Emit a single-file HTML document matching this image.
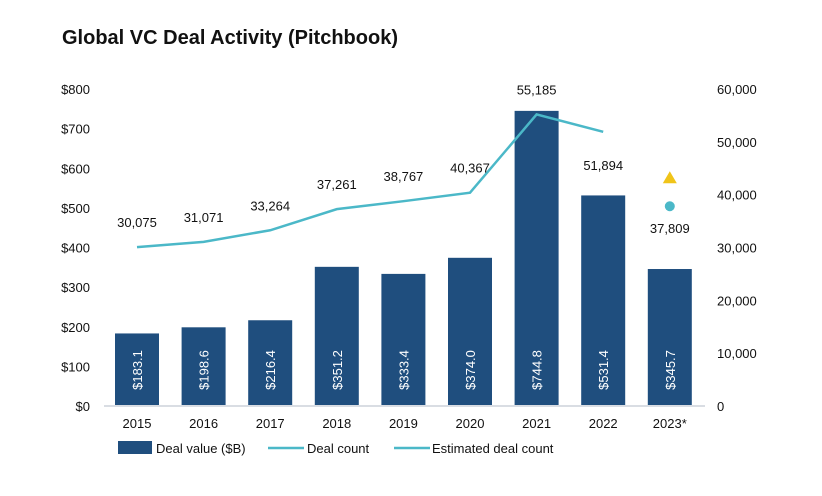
<!DOCTYPE html>
<html><head><meta charset="utf-8"><style>
body{margin:0;background:#fff;font-family:"Liberation Sans",sans-serif}
svg text{font-family:"Liberation Sans",sans-serif}
</style></head><body>
<svg width="822" height="491" xmlns="http://www.w3.org/2000/svg">
<text x="62" y="44" font-size="20" font-weight="bold" fill="#111">Global VC Deal Activity (Pitchbook)</text>
<g id="g"></g>
</svg>
<script>
const years=["2015","2016","2017","2018","2019","2020","2021","2022","2023*"];
const dealValue=[183.1,198.6,216.4,351.2,333.4,374.0,744.8,531.4,345.7];
const dealCount=[30075,31071,33264,37261,38767,40367,55185,51894];
const estCount=[37809];
const estTriangle=[43300];
const leftTicks=[0,100,200,300,400,500,600,700,800];
const rightTicks=[0,10000,20000,30000,40000,50000,60000];
const NS="http://www.w3.org/2000/svg",g=document.getElementById('g');
const y0=406,h=317;
const yL=v=>y0-v/800*h, yR=v=>y0-v/60000*h, xC=i=>137+i*66.6;
function mk(t,a,txt){const e=document.createElementNS(NS,t);for(const k in a)e.setAttribute(k,a[k]);if(txt!=null)e.textContent=txt;g.appendChild(e);return e;}
leftTicks.forEach(v=>{const e=mk('text',{x:90,y:yL(v)+5,'font-size':13,'text-anchor':'end',fill:'#111'},'$'+v);

});
rightTicks.forEach(v=>{const e=mk('text',{x:717,y:yR(v)+5,'font-size':13,fill:'#111'},v.toLocaleString('en-US'));

});
dealValue.forEach((v,i)=>{const b=mk('rect',{x:xC(i)-22,y:yL(v),width:44,height:y0-yL(v),fill:'#1f4e7e'});


const t=mk('text',{x:0,y:0,'font-size':13,fill:'#fff','text-anchor':'middle',transform:`translate(${xC(i)+5},370) rotate(-90)`},'$'+v.toFixed(1));


const yl=mk('text',{x:xC(i),y:428,'font-size':13,'text-anchor':'middle',fill:'#111'},years[i]);

});
const ax=mk('line',{x1:104,x2:705,y1:y0,y2:y0,stroke:'#d9dde3','stroke-width':2});


const pl=mk('polyline',{points:dealCount.map((v,i)=>xC(i)+','+yR(v)).join(' '),fill:'none',stroke:'#4bb8c8','stroke-width':2.5});


dealCount.forEach((v,i)=>{const below=i>0&&v<dealCount[i-1]&&i==dealCount.length-1;
const t=mk('text',{x:xC(i),y:below?yR(v)+38:yR(v)-20,'font-size':13,'text-anchor':'middle',fill:'#111'},v.toLocaleString('en-US'));

});
const ci=8;
const c=mk('circle',{cx:xC(ci),cy:yR(estCount[0]),r:5,fill:'#4bb8c8'});


const ct=mk('text',{x:xC(ci),y:yR(estCount[0])+27,'font-size':13,'text-anchor':'middle',fill:'#111'},estCount[0].toLocaleString('en-US'));


const ty=yR(estTriangle[0]);
const tr=mk('polygon',{points:`${xC(ci)-7},${ty+6} ${xC(ci)+7},${ty+6} ${xC(ci)},${ty-6}`,fill:'#f0c419'});


// legend
const l1=mk('rect',{x:118,y:441,width:34,height:13,fill:'#1f4e7e'});


const l1t=mk('text',{x:156,y:453,'font-size':13,fill:'#111'},'Deal value ($B)');


const l2=mk('line',{x1:268,x2:304,y1:448,y2:448,stroke:'#4bb8c8','stroke-width':2.5});


const l2t=mk('text',{x:307,y:453,'font-size':13,fill:'#111'},'Deal count');


const l3=mk('line',{x1:394,x2:430,y1:448,y2:448,stroke:'#4bb8c8','stroke-width':2.5});


const l3t=mk('text',{x:432,y:453,'font-size':13,fill:'#111'},'Estimated deal count');


</script>
</body></html>
